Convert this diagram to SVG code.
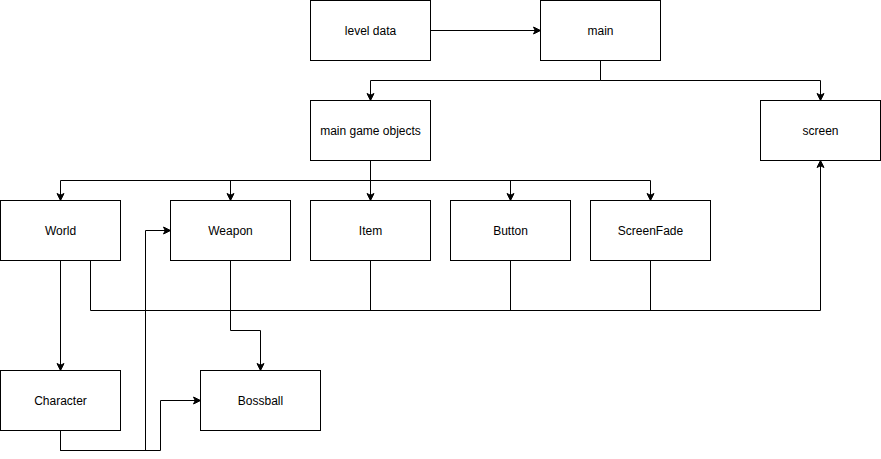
<svg xmlns="http://www.w3.org/2000/svg" width="881" height="459" viewBox="0 0 881 459">
<style>
.n rect{fill:#fff;stroke:#000;stroke-width:1}
.n text{font-family:"Liberation Sans",Arial,Helvetica,sans-serif;font-size:12px;fill:#000;text-anchor:middle;dominant-baseline:central}
.e path{fill:none;stroke:#000;stroke-width:1}
</style>
<defs>
<marker id="ah" markerUnits="userSpaceOnUse" markerWidth="10" markerHeight="10" viewBox="-8 -5 10 10" refX="0" refY="0" orient="auto" overflow="visible">
<path d="M0,0 L-7,-3.5 L-5.25,0 L-7,3.5 Z" fill="#000" stroke="#000" stroke-width="1"/>
</marker>
</defs>
<rect width="881" height="459" fill="#fff"/>
<g transform="translate(0.5,0.5)">
<g class="e" id="connectors">
<path d="M430,30 L540,30" marker-end="url(#ah)"/>
<path d="M600,60 L600,80 L370,80 L370,100" marker-end="url(#ah)"/>
<path d="M600,60 L600,80 L820,80 L820,100" marker-end="url(#ah)"/>
<path d="M370,160 L370,180 L60,180 L60,200" marker-end="url(#ah)"/>
<path d="M370,160 L370,180 L230,180 L230,200" marker-end="url(#ah)"/>
<path d="M370,160 L370,200" marker-end="url(#ah)"/>
<path d="M370,160 L370,180 L510,180 L510,200" marker-end="url(#ah)"/>
<path d="M370,160 L370,180 L650,180 L650,200" marker-end="url(#ah)"/>
<path d="M60,260 L60,370" marker-end="url(#ah)"/>
<path d="M90,260 L90,310 L820,310 L820,160" marker-end="url(#ah)"/>
<path d="M370,260 L370,310"/>
<path d="M510,260 L510,310"/>
<path d="M650,260 L650,310"/>
<path d="M230,260 L230,330 L260,330 L260,370" marker-end="url(#ah)"/>
<path d="M60,430 L60,450 L145,450 L145,230 L170,230" marker-end="url(#ah)"/>
<path d="M60,430 L60,450 L160,450 L160,400 L200,400" marker-end="url(#ah)"/>
</g>
<g class="n" id="level-data"><rect x="310" y="0" width="120" height="60"/><text x="370" y="30">level data</text></g>
<g class="n" id="main"><rect x="540" y="0" width="120" height="60"/><text x="600" y="30">main</text></g>
<g class="n" id="main-game-objects"><rect x="310" y="100" width="120" height="60"/><text x="370" y="130">main game objects</text></g>
<g class="n" id="screen"><rect x="760" y="100" width="120" height="60"/><text x="820" y="130">screen</text></g>
<g class="n" id="world"><rect x="0" y="200" width="120" height="60"/><text x="60" y="230">World</text></g>
<g class="n" id="weapon"><rect x="170" y="200" width="120" height="60"/><text x="230" y="230">Weapon</text></g>
<g class="n" id="item"><rect x="310" y="200" width="120" height="60"/><text x="370" y="230">Item</text></g>
<g class="n" id="button"><rect x="450" y="200" width="120" height="60"/><text x="510" y="230">Button</text></g>
<g class="n" id="screenfade"><rect x="590" y="200" width="120" height="60"/><text x="650" y="230">ScreenFade</text></g>
<g class="n" id="character"><rect x="0" y="370" width="120" height="60"/><text x="60" y="400">Character</text></g>
<g class="n" id="bossball"><rect x="200" y="370" width="120" height="60"/><text x="260" y="400">Bossball</text></g>
</g>
</svg>
